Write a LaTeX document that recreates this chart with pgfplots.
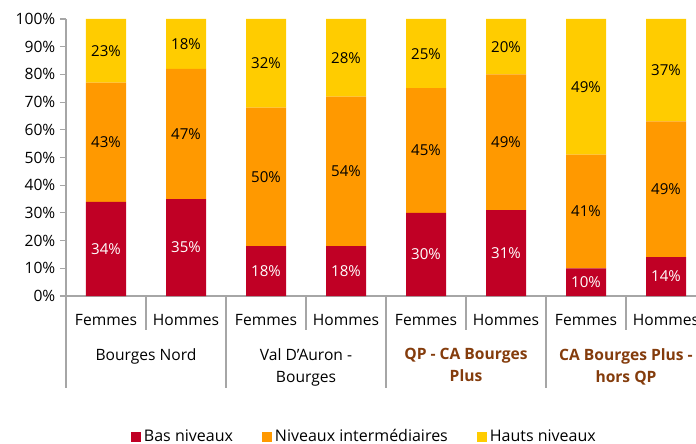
\documentclass[border=0pt]{standalone}
\usepackage{fontspec}
\setmainfont{Open Sans}
\usepackage{pgfplots}
\usepackage{pgfplotstable}
\pgfplotsset{compat=1.18}
\definecolor{basred}{HTML}{C00025}
\definecolor{interorange}{HTML}{FF9900}
\definecolor{hautyellow}{HTML}{FFCC00}
\definecolor{qpbrown}{HTML}{843C0C}
\definecolor{axisgray}{HTML}{A6A6A6}
\newcommand\chartfont{\fontsize{11.7}{16.5}\selectfont}
\newcommand\labelfont{\fontsize{11.3}{13.5}\selectfont}
\newcommand\legendfont{\fontsize{12}{14}\selectfont}

\pgfplotstableread{
x bas inter haut
0 34 43 23
1 35 47 18
2 18 50 32
3 18 54 28
4 30 45 25
5 31 49 20
6 10 41 49
7 14 49 37
}\datatable

\begin{document}
\begin{tikzpicture}
\begin{axis}[
  scale only axis,
  width=480pt, height=207.75pt,
  ybar stacked, bar width=30pt,
  xmin=-0.5, xmax=7.5, ymin=0, ymax=100,
  axis lines*=left,
  axis line style={draw=axisgray, line width=0.8pt},
  clip=false,
  ytick={0,10,...,100},
  yticklabel={\pgfmathprintnumber{\tick}\%},
  xtick={0,...,7},
  xticklabels={Femmes,Hommes,Femmes,Hommes,Femmes,Hommes,Femmes,Hommes},
  x tick style={draw=none},
  y tick style={draw=axisgray, line width=0.8pt},
  tick align=outside, major tick length=4.5pt,
  tick label style={font=\chartfont},
  /pgf/number format/assume math mode=true,
  xticklabel style={yshift=-5.5pt},
  legend columns=3,
  legend style={draw=none, at={(0.467,-0.508)}, anchor=center, font=\legendfont,
    /tikz/every even column/.append style={column sep=20pt}},
  legend image code/.code={\fill[#1] (0pt,-3.75pt) rectangle (7.5pt,3.75pt);},
  nodes near coords={\pgfmathprintnumber{\pgfplotspointmeta}\%},
  every node near coord/.append style={font=\labelfont, anchor=center},
]
\addplot[fill=basred, draw=none, point meta={\thisrow{bas}},
  every node near coord/.append style={text=white, anchor=center}]
  table[x=x, y=bas] {\datatable};
\addplot[fill=interorange, draw=none, point meta={\thisrow{inter}},
  every node near coord/.append style={text=black, anchor=center}]
  table[x=x, y=inter] {\datatable};
\addplot[fill=hautyellow, draw=none, point meta={\thisrow{haut}},
  every node near coord/.append style={text=black, anchor=center}]
  table[x=x, y=haut] {\datatable};
\legend{Bas niveaux,Niveaux intermédiaires,Hauts niveaux}

% separators
\pgfplotsinvokeforeach{0.5,2.5,4.5,6.5}{
  \draw[axisgray, line width=0.8pt] (axis cs:#1,0) -- (axis cs:#1,-12.3);}
\pgfplotsinvokeforeach{-0.5,1.5,3.5,5.5,7.5}{
  \draw[axisgray, line width=0.8pt] (axis cs:#1,0) -- (axis cs:#1,-33.2);}

% group labels
\node[anchor=north, align=center, font=\chartfont, inner sep=0pt] at (axis cs:0.5,-18.9) {Bourges Nord};
\node[anchor=north, align=center, font=\chartfont, inner sep=0pt] at (axis cs:2.5,-18.9) {Val D'Auron -\\Bourges};
\node[anchor=north, align=center, font=\chartfont\bfseries, text=qpbrown, inner sep=0pt] at (axis cs:4.5,-18.9) {QP - CA Bourges\\Plus};
\node[anchor=north, align=center, font=\chartfont\bfseries, text=qpbrown, inner sep=0pt] at (axis cs:6.5,-18.9) {CA Bourges Plus -\\hors QP};

\coordinate (bbl) at (axis cs:-1.325,-53.07);
\coordinate (btr) at (axis cs:7.375,106.86);
\end{axis}
\pgfresetboundingbox
\useasboundingbox (bbl) rectangle (btr);
\end{tikzpicture}
\end{document}
